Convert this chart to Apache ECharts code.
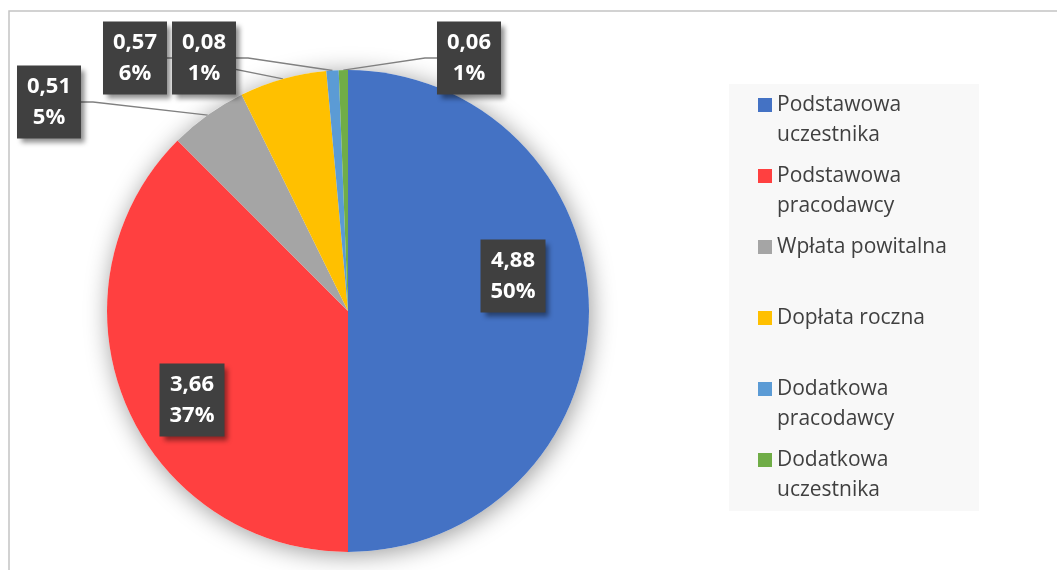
<!DOCTYPE html>
<html>
<head>
<meta charset="utf-8">
<title>Struktura wpłat</title>
<script src="https://cdn.jsdelivr.net/npm/echarts@6/dist/echarts.min.js"></script>
<style>
    html, body { margin: 0; padding: 0; background: #fff; }
    #chart { width: 1057px; height: 570px; }
</style>
</head>
<body>
<div id="chart"></div>
<script>
// dane
const categories = [
    "Podstawowa uczestnika",
    "Podstawowa pracodawcy",
    "Wpłata powitalna",
    "Dopłata roczna",
    "Dodatkowa pracodawcy",
    "Dodatkowa uczestnika"
];
const values = [4.88, 3.66, 0.51, 0.57, 0.08, 0.06];
const legendLabels = [
    "Podstawowa\nuczestnika",
    "Podstawowa\npracodawcy",
    "Wpłata powitalna",
    "Dopłata roczna",
    "Dodatkowa\npracodawcy",
    "Dodatkowa\nuczestnika"
];

const colors = ["#4472C4", "#FF4040", "#A5A5A5", "#FFC000", "#5B9BD5", "#70AD47"];
// gdzie stoją etykiety (środek ramki), kolejność jak categories
const labelSpots = [[513, 276], [192, 400], [49, 102], [135, 58], [204, 58], [469, 58]];
const insideLabel = [true, true, false, false, false, false];

const total = values.reduce((a, b) => a + b, 0);
const fmt = v => v.toFixed(2).replace(".", ",");

// znacznik legendy ma stać przy pierwszej linii, więc tekst jest
// zawsze 3-liniowy: pusta linia, linia 1, linia 2 (lub pusta)
const legendText = name => {
    const t = legendLabels[categories.indexOf(name)];
    return "\n" + t + (t.indexOf("\n") < 0 ? "\n" : "");
};

const chart = echarts.init(document.getElementById("chart"));

chart.setOption({
    animation: false,
    graphic: [
        {
            type: "rect",
            shape: { x: 9, y: 11, width: 1300, height: 900 },
            style: { fill: "none", stroke: "#c4c4c4", lineWidth: 1.5 },
            silent: true,
            z: -10
        },
        {
            // tło legendy
            type: "rect",
            shape: { x: 729, y: 84, width: 250, height: 427 },
            style: { fill: "#f8f8f8" },
            silent: true,
            z: -5
        }
    ],
    legend: {
        orient: "vertical",
        left: 758,
        top: 60,
        padding: 0,
        icon: "rect",
        itemWidth: 14,
        itemHeight: 14,
        itemGap: -19,
        data: categories,
        formatter: legendText,
        textStyle: {
            fontFamily: "Open Sans",
            fontSize: 21,
            lineHeight: 30,
            color: "#404040"
        },
        selectedMode: false
    },
    series: [
        {
            // cień pod kołem
            type: "pie",
            silent: true,
            z: 1,
            center: [348, 311],
            radius: 241,
            label: { show: false },
            labelLine: { show: false },
            data: [{
                name: "",
                value: total,
                itemStyle: {
                    color: "#fff",
                    shadowBlur: 24,
                    shadowColor: "rgba(0,0,0,0.4)",
                    shadowOffsetX: 2,
                    shadowOffsetY: 3
                }
            }]
        },
        {
            type: "pie",
            z: 2,
            center: [348, 311],
            radius: 241,
            startAngle: 90,
            clockwise: true,
            percentPrecision: 0,
            avoidLabelOverlap: false,
            emphasis: { disabled: true },
            data: categories.map((name, i) => ({
                name: name,
                value: values[i],
                itemStyle: { color: colors[i] },
                label: { position: insideLabel[i] ? "inside" : "outside" },
                labelLine: { show: !insideLabel[i] }
            })),
            label: {
                show: true,
                formatter: p => fmt(p.value) + "\n" + p.percent + "%",
                color: "#fff",
                fontFamily: "Open Sans",
                fontWeight: "bold",
                fontSize: 22,
                lineHeight: 31,
                align: "center",
                backgroundColor: "#404040",
                padding: [6, 10, 5, 10],
                shadowColor: "rgba(0,0,0,0.45)",
                shadowBlur: 5,
                shadowOffsetX: 4,
                shadowOffsetY: 4
            },
            labelLine: {
                length: 12,
                length2: 12,
                lineStyle: { color: "#808080", width: 1.3 }
            },
            labelLayout: p => ({
                x: labelSpots[p.dataIndex][0],
                y: labelSpots[p.dataIndex][1],
                align: "center",
                verticalAlign: "middle"
            })
        }
    ]
});
</script>
</body>
</html>
